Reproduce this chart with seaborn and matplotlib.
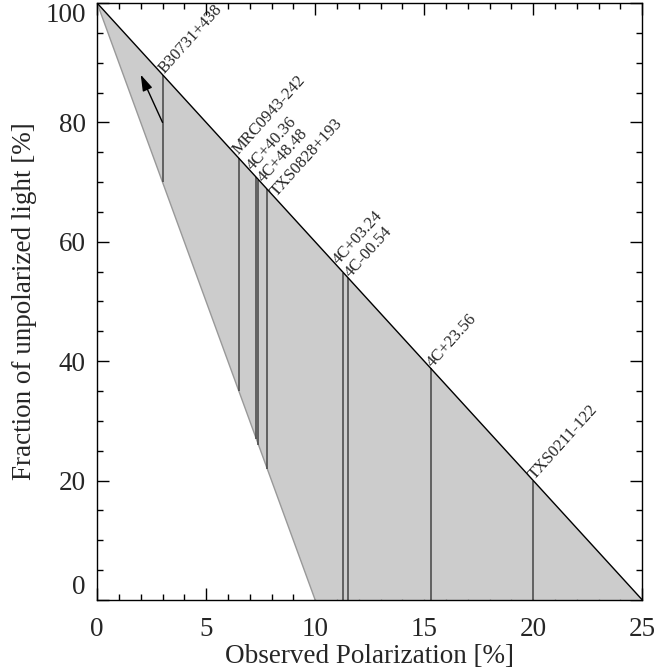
import matplotlib
matplotlib.use("Agg")
import matplotlib.pyplot as plt
import seaborn as sns
import pandas as pd

# limites do modelo (vertices do triangulo)
borda_x = [0, 25, 10, 0]
borda_y = [100, 0, 0, 100]

# fontes e polarizacao observada
fontes = ['B30731+438', 'MRC0943-242', '4C+40.36', '4C+48.48', 'TXS0828+193',
          '4C+03.24', '4C-00.54', '4C+23.56', 'TXS0211-122']
pol_obs = [3.0, 6.5, 7.3, 7.4, 7.8, 11.3, 11.5, 15.3, 20.0]
frac_max = [88.0, 74.0, 70.8, 70.4, 68.8, 54.8, 54.0, 38.8, 20.0]
frac_min = [70.0, 35.0, 27.0, 26.0, 22.0, 0.0, 0.0, 0.0, 0.0]
label_x = [3.15, 6.55, 7.2, 7.7, 8.3, 11.15, 11.7, 15.45, 20.15]

# seta (B30731+438)
seta_ini = (3.0, 80.0)
seta_fim = (2.0, 88.0)

sns.set_style("ticks")
plt.rcParams['font.family'] = ['Liberation Serif', 'DejaVu Serif']

fig = plt.figure(figsize=(6.56, 6.71), dpi=100)
ax = fig.add_axes([0.148, 0.106, 0.831, 0.8895])

ax.fill(borda_x[:3], borda_y[:3], color='#cccccc', lw=0, zorder=1)

df_sup = pd.DataFrame({'x': [borda_x[0], borda_x[1]], 'y': [borda_y[0], borda_y[1]]})
df_inf = pd.DataFrame({'x': [borda_x[0], borda_x[2]], 'y': [borda_y[0], borda_y[2]]})
sns.lineplot(data=df_sup, x='x', y='y', color='black', lw=1, ax=ax, zorder=3)
sns.lineplot(data=df_inf, x='x', y='y', color='#999999', lw=1, ax=ax, zorder=2)

ax.vlines(pol_obs, frac_min, frac_max, color='#444444', lw=1.1, zorder=2)

for nome, lx in zip(fontes, label_x):
    ax.annotate(nome, (lx, 100 - 4 * lx), xytext=(1, 1), textcoords='offset points',
                rotation=48, rotation_mode='anchor', ha='left', va='bottom',
                fontsize=12)

ax.annotate('', xy=seta_fim, xytext=seta_ini,
            arrowprops=dict(arrowstyle='-|>,head_length=0.7,head_width=0.22',
                            color='black', lw=1, mutation_scale=14,
                            shrinkA=0, shrinkB=0))

ax.set_xlim(0, 25)
ax.set_ylim(0, 100)
ax.set_xticks([0, 5, 10, 15, 20, 25])
ax.set_xticks(range(0, 26), minor=True)
ax.set_yticks([0, 20, 40, 60, 80, 100])
ax.set_yticks(range(0, 101, 5), minor=True)
ax.tick_params(which='both', direction='in', top=True, right=True, width=1, color='black')
ax.tick_params(which='major', length=8.5, labelsize=19.5)
ax.tick_params(axis='x', which='major', pad=12)
ax.tick_params(axis='y', which='major', pad=8)
ax.tick_params(which='minor', length=4.5)
ylabs = ax.get_yticklabels()
ylabs[0].set_va('bottom')
ylabs[-1].set_va('top')
for s in ax.spines.values():
    s.set_linewidth(1)
    s.set_color('black')

ax.set_xlabel('Observed Polarization [%]', fontsize=19.5, labelpad=2)
ax.set_ylabel('Fraction of unpolarized light [%]', fontsize=19.5, labelpad=6)

fig.savefig('out.png', dpi=100)
